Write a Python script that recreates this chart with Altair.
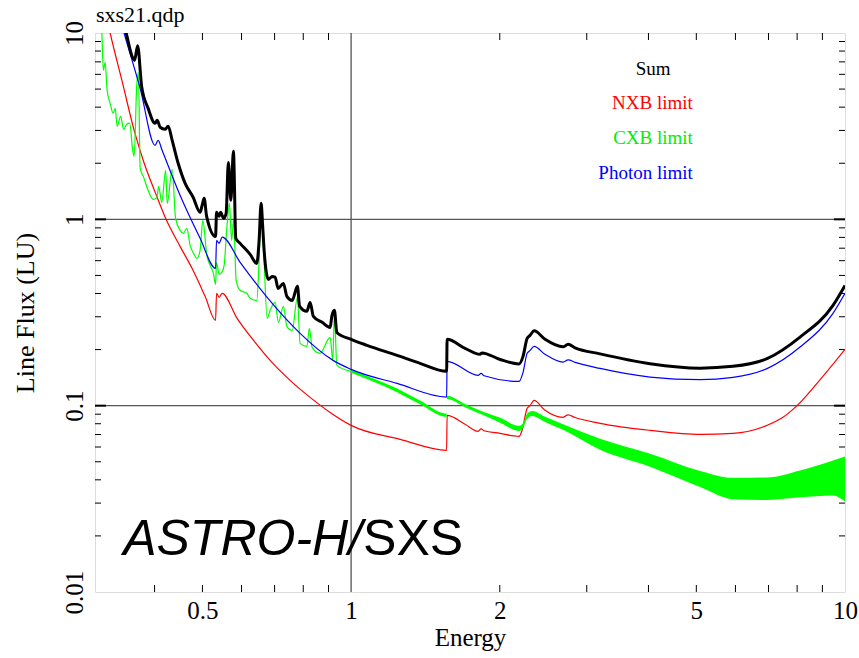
import altair as alt
import pandas as pd

# ---- data (Energy in keV, Line flux in LU) ----
nxb_energy = [0.3103, 0.3252, 0.3439, 0.3637, 0.3811, 0.4010, 0.4220, 0.4505, 0.4788, 0.5063,
              0.5316, 0.5340, 0.5404, 0.5481, 0.5877, 0.6393, 0.6856, 0.7524, 0.8260, 0.9068,
              1.0, 1.257, 1.561, 1.5645, 1.701, 1.808, 1.833, 1.859, 2.003, 2.188,
              2.219, 2.272, 2.303, 2.347, 2.470, 2.686, 2.750, 2.841, 3.192, 4.030,
              5.088, 5.933, 6.952, 7.490, 7.995, 8.776, 10.0]
nxb_flux = [18.0, 10.0, 5.5, 3.0, 2.0, 1.40, 1.0, 0.716, 0.532, 0.386,
            0.287, 0.401, 0.381, 0.401, 0.294, 0.2187, 0.175, 0.1367, 0.1108, 0.092,
            0.0784, 0.0659, 0.0576, 0.0887, 0.0794, 0.0728, 0.0750, 0.0733, 0.0710, 0.0684,
            0.0737, 0.0967, 0.100, 0.1068, 0.0944, 0.0866, 0.0892, 0.0864, 0.0804, 0.0737,
            0.0701, 0.0710, 0.0784, 0.0866, 0.100, 0.1317, 0.2005]

photon_energy = [0.3283, 0.3470, 0.3740, 0.4010, 0.4067, 0.4143, 0.4505, 0.4946, 0.5316, 0.5340,
                 0.5404, 0.5481, 0.5961, 0.6761, 0.7884, 0.9195, 1.0, 1.239, 1.561, 1.5645,
                 1.808, 1.833, 1.859, 2.188, 2.229, 2.272, 2.303, 2.347, 2.470, 2.686,
                 2.750, 2.841, 3.192, 4.030, 5.088, 5.933, 6.952, 8.108, 9.456, 10.0]
photon_flux = [17.0, 10.0, 5.05, 2.497, 2.655, 2.346, 1.345, 0.791, 0.5457, 0.771,
               0.743, 0.803, 0.588, 0.381, 0.2444, 0.175, 0.1566, 0.1317, 0.1112, 0.1729,
               0.1454, 0.149, 0.1447, 0.135, 0.151, 0.1909, 0.198, 0.208, 0.1886, 0.1714,
               0.176, 0.1708, 0.1585, 0.1424, 0.1379, 0.1419, 0.158, 0.2063, 0.313, 0.401]

sum_energy = [0.3375, 0.3504, 0.3602, 0.3644, 0.3696, 0.3766, 0.3882, 0.4010, 0.4049, 0.4106,
              0.4202, 0.4262, 0.4342, 0.4465, 0.4613, 0.4788, 0.4946, 0.4993, 0.5040, 0.5099,
              0.5316, 0.5340, 0.5404, 0.5442, 0.5519, 0.5584, 0.5643, 0.5707, 0.5777, 0.5842,
              0.5961, 0.6245, 0.6442, 0.6512, 0.6573, 0.6620, 0.6666, 0.6801, 0.6920, 0.7017,
              0.7115, 0.7294, 0.7411, 0.7597, 0.7785, 0.7866, 0.8135, 0.8260, 0.8387, 0.8736,
              0.9068, 0.9140, 0.9251, 0.9356, 1.0, 1.077, 1.239, 1.379, 1.561, 1.5645,
              1.701, 1.824, 1.841, 2.003, 2.188, 2.229, 2.272, 2.303, 2.347, 2.470,
              2.686, 2.750, 2.841, 3.192, 4.030, 5.088, 5.933, 6.952, 8.108, 9.456, 10.0]
sum_flux = [14.1, 10.0, 7.5, 7.14, 8.54, 5.17, 3.94, 3.28, 3.40, 3.12,
            3.04, 3.16, 2.655, 2.0, 1.56, 1.313, 1.09, 1.19, 1.296, 1.038,
            0.810, 1.09, 1.038, 1.09, 1.012, 1.077, 2.02, 1.265, 2.317, 0.791,
            0.743, 0.649, 0.580, 0.771, 1.219, 0.929, 0.682, 0.476, 0.494, 0.490,
            0.426, 0.453, 0.386, 0.367, 0.437, 0.341, 0.321, 0.358, 0.3015, 0.280,
            0.263, 0.3015, 0.325, 0.247, 0.227, 0.2107, 0.1862, 0.1687, 0.1528, 0.227,
            0.203, 0.1886, 0.192, 0.177, 0.1676, 0.1839, 0.2298, 0.2384, 0.252, 0.227,
            0.2068, 0.2133, 0.2043, 0.1897, 0.168, 0.159, 0.1626, 0.1788, 0.2335, 0.3454, 0.442]

cxb_energy = [0.3103, 0.3128, 0.3150, 0.3177, 0.3206, 0.3252, 0.3298, 0.3329, 0.3360, 0.3415,
              0.3463, 0.3512, 0.3562, 0.3612, 0.3637, 0.3680, 0.3710, 0.3740, 0.3802, 0.3882,
              0.3973, 0.4044, 0.4077, 0.4136, 0.4213, 0.4243, 0.4342, 0.4412, 0.4505, 0.4575,
              0.4649, 0.4721, 0.4795, 0.4871, 0.4946, 0.5009, 0.5104, 0.5183, 0.5263, 0.5316,
              0.5340, 0.5404, 0.5473, 0.5532, 0.5602, 0.5670, 0.5729, 0.5782, 0.5851, 0.5961,
              0.6150, 0.6245, 0.6442, 0.6512, 0.6573, 0.6645, 0.6761, 0.6856, 0.7017, 0.7125,
              0.7294, 0.7411, 0.7597, 0.7785, 0.7884, 0.8135, 0.8232, 0.8338, 0.8654, 0.9068,
              0.9182, 0.9251, 0.9356, 1.0]
cxb_flux = [11.7, 10.0, 6.31, 6.96, 4.93, 4.19, 3.71, 3.94, 3.16, 3.57,
            3.04, 3.24, 3.28, 2.346, 2.18, 5.17, 6.15, 1.879, 1.68, 1.431,
            1.28, 1.313, 1.503, 1.234, 1.832, 1.219, 1.855, 1.012, 0.873, 0.841,
            0.895, 0.725, 0.657, 0.618, 0.682, 0.988, 0.641, 0.566, 0.513, 0.448,
            0.588, 0.507, 0.519, 0.566, 0.895, 1.219, 0.771, 0.988, 0.471, 0.416,
            0.401, 0.377, 0.367, 0.602, 1.117, 0.725, 0.294, 0.325, 0.358, 0.280,
            0.341, 0.2666, 0.2536, 0.381, 0.216, 0.208, 0.260, 0.2056, 0.191, 0.2326,
            0.175, 0.313, 0.1646, 0.1528]

# noisy CXB part above 1 keV: upper / lower edge of the scatter
cxb_band_energy = [1.0, 1.239, 1.379, 1.561, 1.5645, 1.701, 1.850, 2.003, 2.188, 2.229,
                   2.272, 2.325, 2.470, 2.686, 3.192, 4.030, 5.088, 5.933, 6.952, 8.108,
                   9.456, 10.0]
cxb_band_high = [0.1556, 0.1235, 0.1065, 0.0905, 0.1130, 0.1020, 0.0928, 0.0860, 0.0780, 0.0805,
                 0.0905, 0.0935, 0.0872, 0.0795, 0.0665, 0.0552, 0.0446, 0.0410, 0.0412, 0.0449,
                 0.0508, 0.0534]
cxb_band_low = [0.1500, 0.1180, 0.1018, 0.0870, 0.1085, 0.0980, 0.0890, 0.0810, 0.0732, 0.0760,
                0.0848, 0.0880, 0.0818, 0.0742, 0.0580, 0.0470, 0.0366, 0.0315, 0.0312, 0.0322,
                0.0330, 0.0306]

x_tick_labels = [0.5, 1, 2, 5, 10]
y_tick_labels = [0.01, 0.1, 1, 10]
x_minor_ticks = [0.4, 0.5, 0.6, 0.7, 0.8, 0.9, 2, 3, 4, 5, 6, 7, 8, 9]
y_minor_ticks = [0.02, 0.03, 0.04, 0.05, 0.06, 0.07, 0.08, 0.09,
                 0.2, 0.3, 0.4, 0.5, 0.6, 0.7, 0.8, 0.9,
                 2, 3, 4, 5, 6, 7, 8, 9]
y_major_ticks = [0.1, 1]
x_grid = [1]
y_grid = [0.1, 1]

legend_text = ["NXB limit", "CXB limit", "Photon limit"]
legend_color = ["#ff0000", "#00ee00", "#0000ff"]
legend_energy = [4.92, 4.92, 4.92]
legend_flux = [4.195, 2.72, 1.766]

W, H = 750, 559
SERIF = "Liberation Serif"

xs = alt.Scale(type="log", domain=[0.303, 10], nice=False)
ys = alt.Scale(type="log", domain=[0.01, 10], nice=False)
xaxis = alt.Axis(values=x_tick_labels, labelExpr="datum.value", ticks=False, domain=False, grid=False,
                 labelFont=SERIF, labelFontSize=25, labelColor="black", labelPadding=6,
                 titleFont=SERIF, titleFontSize=25, titleFontWeight="normal", titleColor="black",
                 titlePadding=2, labelFlush=False)
yaxis = alt.Axis(values=y_tick_labels, labelExpr="datum.value", ticks=False, domain=False, grid=False,
                 labelFont=SERIF, labelFontSize=25, labelColor="black", labelAngle=270,
                 labelAlign="center", labelBaseline="bottom", labelPadding=8,
                 titleFont=SERIF, titleFontSize=26, titleFontWeight="normal", titleColor="black",
                 titlePadding=24, labelFlush=False)

X = lambda f: alt.X(f"{f}:Q", scale=xs, axis=xaxis, title="Energy")
Y = lambda f: alt.Y(f"{f}:Q", scale=ys, axis=yaxis, title="Line Flux (LU)")


def line(e, f, color, width):
    df = pd.DataFrame({"E": e, "F": f})
    return alt.Chart(df).mark_line(color=color, strokeWidth=width, clip=True, strokeJoin="round",
                                   interpolate="monotone").encode(
        x=X("E"), y=Y("F"), order="E:Q")


grid_v = alt.Chart(pd.DataFrame({"E": x_grid})).mark_rule(color="#555555", strokeWidth=1.3).encode(
    x=X("E"), y=alt.value(0), y2=alt.value(H))
grid_h = alt.Chart(pd.DataFrame({"F": y_grid})).mark_rule(color="#555555", strokeWidth=1.3).encode(
    y=Y("F"), x=alt.value(0), x2=alt.value(W))

xt = pd.DataFrame({"E": x_minor_ticks})
yt = pd.DataFrame({"F": y_minor_ticks})
ytm = pd.DataFrame({"F": y_major_ticks})
tick_style = dict(color="black", strokeWidth=1)
ticks = [
    alt.Chart(xt).mark_rule(**tick_style).encode(x=X("E"), y=alt.value(H), y2=alt.value(H - 7)),
    alt.Chart(xt).mark_rule(**tick_style).encode(x=X("E"), y=alt.value(0), y2=alt.value(7)),
    alt.Chart(yt).mark_rule(**tick_style).encode(y=Y("F"), x=alt.value(0), x2=alt.value(6)),
    alt.Chart(yt).mark_rule(**tick_style).encode(y=Y("F"), x=alt.value(W), x2=alt.value(W - 6)),
    alt.Chart(ytm).mark_rule(color="black", strokeWidth=2).encode(y=Y("F"), x=alt.value(0), x2=alt.value(11)),
    alt.Chart(ytm).mark_rule(color="black", strokeWidth=2).encode(y=Y("F"), x=alt.value(W), x2=alt.value(W - 11)),
]

band = alt.Chart(pd.DataFrame({"E": cxb_band_energy, "lo": cxb_band_low, "hi": cxb_band_high})).mark_area(
    color="#00ff00", clip=True, opacity=1, interpolate="monotone").encode(x=X("E"), y=Y("lo"), y2="hi:Q")

red = line(nxb_energy, nxb_flux, "#ff0000", 1.2)
green = line(cxb_energy, cxb_flux, "#00ff00", 1.2)
blue = line(photon_energy, photon_flux, "#0000ff", 1.2)
black = line(sum_energy, sum_flux, "#000000", 3)

leg_df = pd.DataFrame({"E": legend_energy, "F": legend_flux, "t": legend_text, "c": legend_color})
legend = alt.Chart(leg_df).mark_text(align="right", baseline="middle", font=SERIF, fontSize=19).encode(
    x=X("E"), y=Y("F"), text="t:N", color=alt.Color("c:N", scale=None))
sum_lab = alt.Chart(pd.DataFrame({"E": [4.087], "F": [6.39], "t": ["Sum"]})).mark_text(
    align="center", baseline="middle", font=SERIF, fontSize=19, color="black").encode(
    x=X("E"), y=Y("F"), text="t:N")

astro = alt.Chart(pd.DataFrame({"E": [0.3455], "F": [0.01572], "t": ["ASTRO-H/"]})).mark_text(
    align="left", baseline="alphabetic", font="Liberation Sans", fontStyle="italic", fontSize=50,
    color="black").encode(x=X("E"), y=Y("F"), text="t:N")
sxs = alt.Chart(pd.DataFrame({"E": [1.0575], "F": [0.01572], "t": ["SXS"]})).mark_text(
    align="left", baseline="alphabetic", font="Liberation Sans", fontSize=50,
    color="black").encode(x=X("E"), y=Y("F"), text="t:N")

# plot title "sxs21.qdp" sitting just above the frame, left-aligned
title_txt = alt.Chart(pd.DataFrame({"t": ["sxs21.qdp"]})).mark_text(
    align="left", baseline="alphabetic", font=SERIF, fontSize=22, color="black").encode(
    x=alt.value(1), y=alt.value(-11), text="t:N")

chart = alt.layer(
    grid_v, grid_h, *ticks, red, band, green, blue, black, legend, sum_lab, astro, sxs, title_txt
).properties(
    width=W, height=H,
    autosize=alt.AutoSizeParams(type="none"),
    padding={"left": 95, "top": 33, "right": 14, "bottom": 66},
).configure_view(stroke="black", strokeWidth=1.5).configure(background="white")

chart.save("out.html", embed_options={"renderer": "svg", "actions": False})
